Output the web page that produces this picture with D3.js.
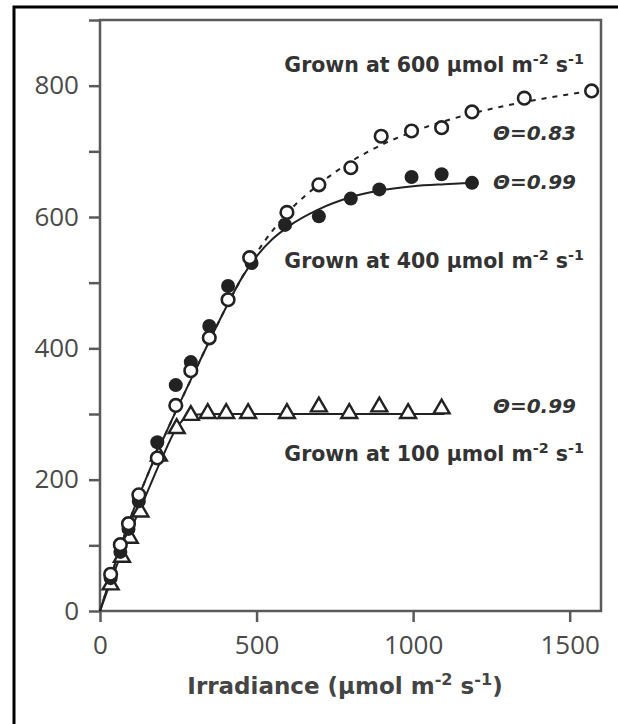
<!DOCTYPE html>
<html>
<head>
<meta charset="utf-8">
<title>Light response curves</title>
<style>
    body { margin: 0; background: #fff; }
    .frame { fill: none; stroke: #5a5a5a; stroke-width: 2.5px; }
    .axis path, .axis line { stroke: #5a5a5a; stroke-width: 2.5px; }
    .axis text { fill: #4a4a4a; font-family: "Open Sans", sans-serif; font-size: 26px; }
    .fit { fill: none; stroke: #222; stroke-width: 2px; }
    .fit600 { stroke-dasharray: 5,6; }
    .lab { fill: #333; font-family: "DejaVu Sans", sans-serif; font-weight: bold; font-size: 20.5px; }
    .theta { fill: #333; font-family: "DejaVu Sans", sans-serif; font-weight: bold; font-style: italic; font-size: 20px; }
</style>
</head>
<body>
<script src="https://cdn.jsdelivr.net/npm/d3@7"></script>
<script>

var width = 618, height = 724;

// measured points: irradiance / photosynthesis
var irr600 = [34, 65, 91, 124, 183, 242, 290, 349, 409, 478, 597, 699, 801, 898, 995, 1091, 1188, 1355, 1570];
var pn600  = [56, 101, 133, 177, 233, 313, 366, 416, 474, 538, 607, 649, 675, 723, 731, 736, 760, 781, 792];

var irr400 = [34, 65, 91, 124, 183, 242, 290, 349, 409, 484, 591, 699, 801, 892, 995, 1091, 1188];
var pn400  = [50, 90, 125, 167, 257, 344, 379, 434, 495, 530, 588, 601, 628, 642, 661, 665, 652];

var irr100 = [34, 70, 95, 129, 188, 245, 290, 344, 403, 473, 597, 699, 796, 892, 984, 1091];
var pn100  = [40, 82, 111, 151, 236, 278, 298, 301, 301, 301, 301, 311, 301, 311, 301, 308];

// fitted curves
var fitX600 = [0, 50, 100, 150, 200, 250, 300, 350, 400, 450, 500, 600, 700, 800, 900, 1000, 1100, 1200, 1300, 1400, 1500, 1570];
var fitY600 = [0, 75, 145, 205, 260, 312, 362, 412, 460, 505, 545, 607, 650, 684, 710, 730, 746, 759, 770, 779, 787, 792];
var fitX400 = [0, 50, 100, 150, 200, 250, 300, 350, 400, 450, 500, 550, 600, 700, 800, 900, 1000, 1100, 1190];
var fitY400 = [0, 75, 145, 205, 260, 312, 362, 412, 460, 505, 540, 566, 585, 612, 630, 641, 647, 650, 652];
var fitX100 = [0, 50, 100, 150, 200, 240, 270, 300, 350, 400, 1100];
var fitY100 = [0, 65, 125, 180, 235, 275, 293, 299, 300, 300, 300];

var xTicks = [0, 500, 1000, 1500];
var yTicks = [0, 100, 200, 300, 400, 500, 600, 700, 800, 900];
var yLabelled = [0, 200, 400, 600, 800];

var svg = d3.select("body").append("svg")
        .attr("width", width)
        .attr("height", height);

// outer black border (top + left only)
svg.append("path")
        .attr("d", "M14,724 L14,7 L618,7")
        .attr("fill", "none")
        .attr("stroke", "#000")
        .attr("stroke-width", 3);

var x = d3.scaleLinear().domain([0, 1600]).range([100, 601]);
var y = d3.scaleLinear().domain([0, 900]).range([611, 20]);

// frame
svg.append("rect")
        .attr("class", "frame")
        .attr("x", x(0)).attr("y", y(900))
        .attr("width", x(1600) - x(0))
        .attr("height", y(0) - y(900));

svg.append("g")
        .attr("class", "axis")
        .attr("transform", "translate(" + x(0) + ",0)")
        .call(d3.axisLeft(y).tickValues(yTicks).tickSize(11).tickPadding(10)
            .tickFormat(function(d) { return yLabelled.indexOf(d) >= 0 ? d : ""; }))
        .call(function(g) { g.select(".domain").remove(); });

svg.append("g")
        .attr("class", "axis")
        .attr("transform", "translate(0," + y(0) + ")")
        .call(d3.axisBottom(x).tickValues(xTicks).tickSize(11).tickPadding(14).tickFormat(d3.format("d")))
        .call(function(g) { g.select(".domain").remove(); });

// fitted lines
var line = d3.line().curve(d3.curveMonotoneX)
        .x(function(d) { return x(d[0]); })
        .y(function(d) { return y(d[1]); });

svg.append("path").attr("class", "fit")
        .attr("d", line(d3.zip(fitX100, fitY100)));
svg.append("path").attr("class", "fit")
        .attr("d", line(d3.zip(fitX400, fitY400)));
svg.append("path").attr("class", "fit fit600")
        .attr("d", line(d3.zip(fitX600, fitY600)));

// markers
svg.selectAll(".tri")
        .data(d3.zip(irr100, pn100))
        .enter().append("path")
        .attr("class", "tri")
        .attr("d", d3.symbol(d3.symbolTriangle, 110))
        .attr("transform", function(d) { return "translate(" + x(d[0]) + "," + y(d[1]) + ")"; })
        .attr("fill", "#fff")
        .attr("stroke", "#222")
        .attr("stroke-width", 2.4);

svg.selectAll(".dot400")
        .data(d3.zip(irr400, pn400))
        .enter().append("circle")
        .attr("class", "dot400")
        .attr("cx", function(d) { return x(d[0]); })
        .attr("cy", function(d) { return y(d[1]); })
        .attr("r", 7)
        .attr("fill", "#222");

svg.selectAll(".dot600")
        .data(d3.zip(irr600, pn600))
        .enter().append("circle")
        .attr("class", "dot600")
        .attr("cx", function(d) { return x(d[0]); })
        .attr("cy", function(d) { return y(d[1]); })
        .attr("r", 6.3)
        .attr("fill", "#fff")
        .attr("stroke", "#222")
        .attr("stroke-width", 2.6);

// labels
function grownLabel(xp, yp, level) {
    var t = svg.append("text").attr("class", "lab")
            .attr("x", xp).attr("y", yp).attr("text-anchor", "end");
    t.append("tspan").text("Grown at " + level + " \u00b5mol m");
    t.append("tspan").attr("baseline-shift", "super").attr("font-size", "70%").text("-2");
    t.append("tspan").text(" s");
    t.append("tspan").attr("baseline-shift", "super").attr("font-size", "70%").text("-1");
}
grownLabel(584, 72, 600);
grownLabel(584, 268, 400);
grownLabel(584, 461, 100);

var thetas = [["\u0398=0.83", 140], ["\u0398=0.99", 189], ["\u0398=0.99", 413]];
svg.selectAll(".theta")
        .data(thetas)
        .enter().append("text")
        .attr("class", "theta")
        .attr("x", 576)
        .attr("y", function(d) { return d[1]; })
        .attr("text-anchor", "end")
        .text(function(d) { return d[0]; });

// x axis title
var xt = svg.append("text")
        .attr("x", 345).attr("y", 694)
        .attr("text-anchor", "middle")
        .attr("fill", "#444")
        .attr("font-family", "DejaVu Sans, sans-serif")
        .attr("font-weight", "bold")
        .attr("font-size", 23);
xt.append("tspan").text("Irradiance (\u00b5mol m");
xt.append("tspan").attr("baseline-shift", "super").attr("font-size", "70%").text("-2");
xt.append("tspan").text(" s");
xt.append("tspan").attr("baseline-shift", "super").attr("font-size", "70%").text("-1");
xt.append("tspan").text(")");

</script>
</body>
</html>
